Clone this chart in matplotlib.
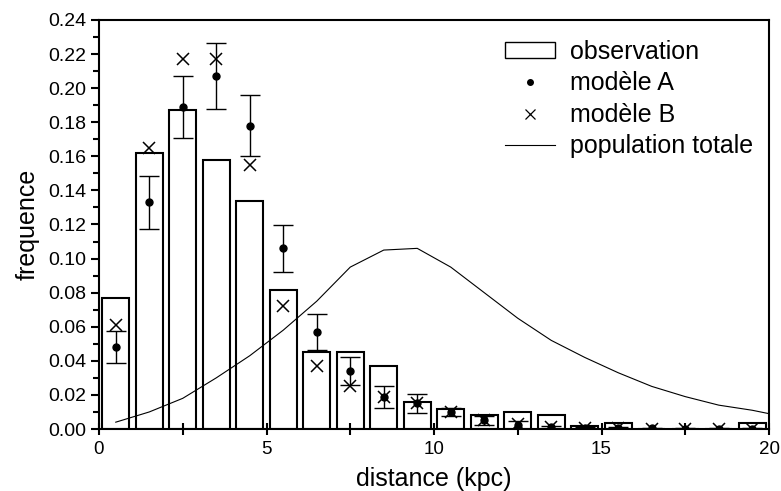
import matplotlib
matplotlib.use("Agg")
import matplotlib.pyplot as plt
from matplotlib.lines import Line2D
from matplotlib.patches import Rectangle
from matplotlib.ticker import MultipleLocator, FormatStrFormatter

plt.rcParams['font.family'] = ['Liberation Sans', 'DejaVu Sans']

# bin centres (kpc)
distance = [0.5, 1.5, 2.5, 3.5, 4.5, 5.5, 6.5, 7.5, 8.5, 9.5,
            10.5, 11.5, 12.5, 13.5, 14.5, 15.5, 16.5, 17.5, 18.5, 19.5]
observation = [0.077, 0.162, 0.187, 0.158, 0.134, 0.0815, 0.045, 0.045, 0.037, 0.016,
               0.012, 0.008, 0.010, 0.008, 0.002, 0.0037, 0.0, 0.0, 0.0, 0.0037]
modele_A = [0.048, 0.133, 0.189, 0.207, 0.178, 0.106, 0.057, 0.034, 0.019, 0.015,
            0.010, 0.005, 0.0025, 0.001, 0.0005, 0.0005, 0.0003, 0.0002, 0.0002, 0.0002]
modele_A_err = [0.0095, 0.0155, 0.018, 0.0195, 0.018, 0.014, 0.0105, 0.008, 0.0065, 0.0055,
                0.0025, 0.0025, 0.0023, 0.001, 0.0005, 0.0005, 0.0003, 0.0002, 0.0002, 0.0002]
modele_B = [0.061, 0.165, 0.217, 0.217, 0.155, 0.072, 0.037, 0.025, 0.019, 0.015,
            0.010, 0.005, 0.003, 0.001, 0.0005, 0.0003, 0.0002, 0.0002, 0.0002, 0.0002]
pop_x = [0.5, 1.5, 2.5, 3.5, 4.5, 5.5, 6.5, 7.5, 8.5, 9.5,
         10.5, 11.5, 12.5, 13.5, 14.5, 15.5, 16.5, 17.5, 18.5, 19.5, 20.0]
pop_totale = [0.004, 0.010, 0.018, 0.030, 0.043, 0.058, 0.075, 0.095, 0.105, 0.106,
              0.095, 0.080, 0.065, 0.052, 0.042, 0.033, 0.025, 0.019, 0.014, 0.011, 0.009]

fig = plt.figure(figsize=(7.81, 4.91), dpi=100)
ax = fig.add_axes([99 / 781, 62 / 491, 670 / 781, 409 / 491])

ax.bar(distance, observation, width=0.8, facecolor='white', edgecolor='black',
       linewidth=1.5, zorder=1)
ax.plot(pop_x, pop_totale, color='black', linewidth=0.8, zorder=2)
ax.errorbar(distance, modele_A, yerr=modele_A_err, fmt='o', color='black', ms=5,
            elinewidth=1.0, capsize=7, capthick=1.0, zorder=3)
ax.plot(distance, modele_B, 'x', color='black', ms=9, mew=1.1, zorder=4)

ax.set_xlim(0, 20)
ax.set_ylim(0, 0.24)
ax.xaxis.set_major_locator(MultipleLocator(5))
ax.xaxis.set_minor_locator(MultipleLocator(2.5))
ax.yaxis.set_major_locator(MultipleLocator(0.02))
ax.yaxis.set_minor_locator(MultipleLocator(0.01))
ax.yaxis.set_major_formatter(FormatStrFormatter('%.2f'))

for s in ax.spines.values():
    s.set_linewidth(1.5)
ax.tick_params(axis='y', which='major', direction='out', length=6, width=1.5, labelsize=14, pad=3)
ax.tick_params(axis='y', which='minor', direction='out', length=4, width=1.5)
ax.tick_params(axis='x', which='major', direction='inout', length=8, width=1.5, labelsize=13.5, pad=5)
ax.tick_params(axis='x', which='minor', direction='inout', length=8, width=1.5)

ax.set_xlabel('distance (kpc)', fontsize=18, labelpad=6)
ax.set_ylabel('frequence', fontsize=18, labelpad=6)

handles = [
    Rectangle((0, 0), 1, 1, facecolor='white', edgecolor='black', linewidth=1.0),
    Line2D([], [], marker='o', ls='none', color='black', ms=4),
    Line2D([], [], marker='x', ls='none', color='black', ms=7, mew=0.9),
    Line2D([], [], color='black', lw=0.8),
]
labels = ['observation', 'modèle A', 'modèle B', 'population totale']
ax.legend(handles, labels, loc='upper left', bbox_to_anchor=(505 / 781, 1 - 40 / 491),
          bbox_transform=fig.transFigure, frameon=False, borderpad=0, borderaxespad=0,
          fontsize=18, handlelength=2.0, handleheight=0.6, handletextpad=0.6,
          labelspacing=0.3)

fig.savefig('out.png', dpi=100)
